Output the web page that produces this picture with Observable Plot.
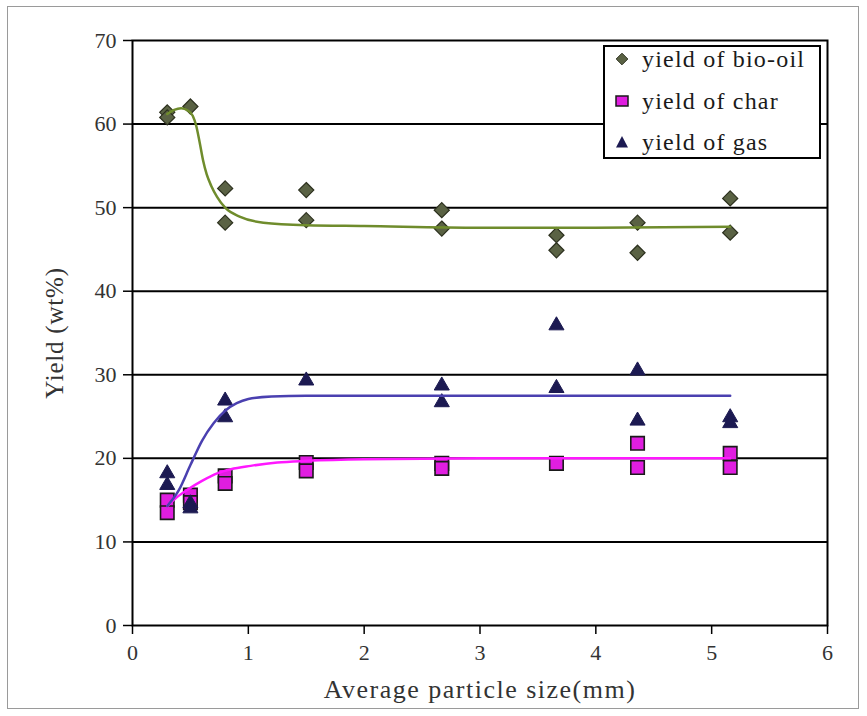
<!DOCTYPE html>
<html lang="en"><head><meta charset="utf-8">
<style>
html,body{margin:0;padding:0;background:#fff;}
body{font-family:'Liberation Serif','Noto Serif','DejaVu Serif',serif;}
#wrap{position:relative;width:867px;height:716px;}
#border{position:absolute;left:7px;top:6px;width:852px;height:703px;border:1.5px solid #9a9a9a;box-sizing:border-box;pointer-events:none;}
#legend{position:absolute;left:603px;top:45px;width:218px;height:114px;border:2px solid #000;box-sizing:border-box;background:#fff;}
.item{position:absolute;left:10px;height:24px;display:flex;align-items:center;font-size:24px;color:#1a1a1a;letter-spacing:1.2px;white-space:nowrap;line-height:24px;}
.item svg{margin-right:13px;flex:none;}
</style>
<script src="https://cdn.jsdelivr.net/npm/d3@7"></script>
<script src="https://cdn.jsdelivr.net/npm/@observablehq/plot@0.6"></script>
</head>
<body><div id="wrap"><div id="chart"></div><div id="legend"></div><div id="border"></div></div>
<script>
// particle sizes (mm)
const sizes = [0.3, 0.5, 0.8, 1.5, 2.67, 3.66, 4.36, 5.16];
// two replicate runs per series (null = no visible point)
const bioOilRun1 = [61.4, 62.1, 52.3, 52.1, 49.7, 46.7, 48.2, 51.1];
const bioOilRun2 = [60.8, null, 48.2, 48.5, 47.5, 44.9, 44.6, 47.0];
const charRun1 = [15.0, 15.6, 17.9, 19.5, 19.4, 19.4, 21.8, 20.6];
const charRun2 = [13.5, 14.7, 17.0, 18.5, 18.8, null, 18.9, 18.9];
const gasRun1 = [18.2, 14.6, 26.9, 29.3, 28.7, 35.9, 30.5, 24.9];
const gasRun2 = [16.8, 14.0, 24.9, null, 26.7, 28.4, 24.5, 24.2];

// fitted trend curves
const bioFitX = [0.3, 0.36, 0.42, 0.48, 0.52, 0.55, 0.58, 0.61, 0.64, 0.68, 0.73, 0.80, 0.93, 1.13, 1.5, 2.0, 3.0, 4.0, 5.16];
const bioFitY = [61.2, 61.7, 61.9, 61.6, 61.0, 59.8, 57.8, 55.6, 54.0, 52.6, 51.3, 50.0, 48.9, 48.2, 47.9, 47.8, 47.6, 47.6, 47.7];
const gasFitX = [0.3, 0.4, 0.5, 0.6, 0.7, 0.8, 0.9, 1.0, 1.2, 1.5, 2.0, 3.0, 5.16];
const gasFitY = [14.3, 16.2, 19.2, 22.1, 24.2, 25.7, 26.6, 27.1, 27.4, 27.5, 27.5, 27.5, 27.5];
const charFitX = [0.3, 0.37, 0.47, 0.6, 0.73, 0.85, 1.02, 1.25, 1.5, 2.0, 3.0, 5.16];
const charFitY = [14.3, 15.2, 16.2, 17.3, 18.2, 18.7, 19.1, 19.5, 19.7, 19.9, 20.0, 20.0];

const xTicks = [0, 1, 2, 3, 4, 5, 6];
const yTicks = [0, 10, 20, 30, 40, 50, 60, 70];
const seriesNames = ["yield of bio-oil", "yield of char", "yield of gas"];

function pts(runA, runB) {
  const out = [];
  sizes.forEach((s, i) => {
    if (runA[i] != null) out.push({x: s, y: runA[i]});
    if (runB[i] != null) out.push({x: s, y: runB[i]});
  });
  return out;
}
const fit = (xs, ys) => xs.map((x, i) => ({x, y: ys[i]}));

const bio = pts(bioOilRun1, bioOilRun2);
const charP = pts(charRun1, charRun2);
const gas = pts(gasRun1, gasRun2);

const colors = {
  bioFill: "#5a6244", bioStroke: "#2c301e", bioLine: "#6f8c2c",
  charFill: "#e01ee0", charStroke: "#1a1a1a", charLine: "#ff18ff",
  gasFill: "#1c1a52", gasLine: "#4a40b0"
};
const serif = "Liberation Serif";

const chart = Plot.plot({
  width: 867,
  height: 716,
  marginLeft: 132,
  marginRight: 40,
  marginTop: 40,
  marginBottom: 91,
  style: {fontSize: "22px", background: "transparent", color: "#000"},
  x: {domain: [0, 6]},
  y: {domain: [0, 70]},
  marks: [
    Plot.ruleY(yTicks.filter(d => d > 0 && d < 70), {stroke: "#000", strokeWidth: 2}),
    Plot.frame({stroke: "#000", strokeWidth: 2}),
    Plot.axisY({ticks: yTicks, tickFormat: d => String(d), tickSize: 9, tickPadding: 7, stroke: "#000", strokeWidth: 1.5, fill: "#333", fontSize: 22, fontFamily: serif,
      label: "Yield (wt%)", labelAnchor: "center", labelArrow: "none", labelOffset: 87}),
    Plot.axisX({ticks: xTicks, tickFormat: d => String(d), tickSize: 9, tickPadding: 10, stroke: "#000", strokeWidth: 1.5, fill: "#333", fontSize: 22, fontFamily: serif,
      label: "Average particle size(mm)", labelAnchor: "center", labelArrow: "none", labelOffset: 72}),
    Plot.dot(bio, {x: "x", y: "y", symbol: "diamond2", r: 6.8, fill: colors.bioFill, stroke: colors.bioStroke, strokeWidth: 1.2}),
    Plot.dot(charP, {x: "x", y: "y", symbol: "square", r: 7.6, fill: colors.charFill, stroke: colors.charStroke, strokeWidth: 1.6}),
    Plot.dot(gas, {x: "x", y: "y", symbol: "triangle", r: 5.6, fill: colors.gasFill, stroke: colors.gasFill, strokeWidth: 1}),
    Plot.line(fit(bioFitX, bioFitY), {x: "x", y: "y", stroke: colors.bioLine, strokeWidth: 2.5, curve: "monotone-x"}),
    Plot.line(fit(charFitX, charFitY), {x: "x", y: "y", stroke: colors.charLine, strokeWidth: 2.5, curve: "monotone-x"}),
    Plot.line(fit(gasFitX, gasFitY), {x: "x", y: "y", stroke: colors.gasLine, strokeWidth: 2.5, curve: "monotone-x"})
  ]
});
chart.setAttribute("font-family", "Liberation Serif");
chart.querySelectorAll("text").forEach(t => t.setAttribute("font-family", "Liberation Serif"));
const xl = chart.querySelector('[aria-label="x-axis label"] text');
if (xl) { xl.setAttribute("font-size", "26"); xl.setAttribute("letter-spacing", "1.5"); }
const yl = chart.querySelector('[aria-label="y-axis label"] text');
if (yl) { yl.setAttribute("font-size", "25"); yl.setAttribute("letter-spacing", "0.8"); }
document.getElementById("chart").appendChild(chart);

// legend
const legend = document.getElementById("legend");
const markers = [
  `<svg width="14" height="14" viewBox="-7 -7 14 14"><path d="M0,-5.8L5.8,0L0,5.8L-5.8,0Z" fill="${colors.bioFill}" stroke="${colors.bioStroke}" stroke-width="1"/></svg>`,
  `<svg width="14" height="14" viewBox="-7 -7 14 14"><rect x="-6" y="-5" width="12" height="10" fill="${colors.charFill}" stroke="${colors.charStroke}" stroke-width="1.5"/></svg>`,
  `<svg width="14" height="14" viewBox="-7 -7 14 14"><path d="M0,-6L6,5.5L-6,5.5Z" fill="${colors.gasFill}"/></svg>`
];
const tops = [0, 42, 83];
seriesNames.forEach((name, i) => {
  const d = document.createElement("div");
  d.className = "item";
  d.style.top = tops[i] + "px";
  d.innerHTML = markers[i] + `<span>${name}</span>`;
  legend.appendChild(d);
});
</script>
</body></html>
